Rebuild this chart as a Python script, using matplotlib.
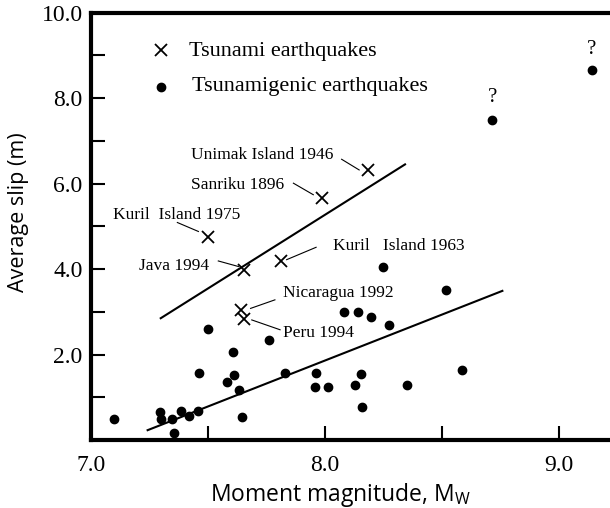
import matplotlib
matplotlib.use("Agg")
import matplotlib.pyplot as plt
from matplotlib.ticker import FixedLocator

plt.rcParams['mathtext.fontset'] = 'custom'
plt.rcParams['mathtext.rm'] = 'Open Sans'

# Tsunamigenic earthquakes (dots)
dot_mw = [7.10, 7.295, 7.298, 7.345, 7.355, 7.383, 7.42, 7.456, 7.463, 7.499,
          7.58, 7.608, 7.611, 7.632, 7.647, 7.762, 7.83, 7.962, 7.956, 8.011,
          8.08, 8.13, 8.142, 8.152, 8.159, 8.195, 8.247, 8.275, 8.349, 8.517,
          8.584, 8.714, 9.14]
dot_slip = [0.48, 0.65, 0.48, 0.48, 0.17, 0.69, 0.57, 0.69, 1.56, 2.60,
            1.36, 2.05, 1.52, 1.17, 0.53, 2.33, 1.56, 1.56, 1.24, 1.24,
            3.00, 1.28, 3.00, 1.55, 0.77, 2.88, 4.04, 2.68, 1.28, 3.51,
            1.64, 7.49, 8.65]

# Tsunami earthquakes (crosses)
tsu_names = ["Unimak Island 1946", "Sanriku 1896", "Kuril  Island 1975",
             "Kuril   Island 1963", "Java 1994", "Nicaragua 1992", "Peru 1994"]
tsu_mw = [8.185, 7.988, 7.498, 7.81, 7.655, 7.642, 7.652]
tsu_slip = [6.31, 5.67, 4.75, 4.19, 3.98, 3.05, 2.83]
# label anchor (left, baseline) and leader line start
lab_x = [7.426, 7.426, 7.095, 8.033, 7.205, 7.822, 7.822]
lab_y = [6.57, 5.87, 5.17, 4.45, 3.99, 3.34, 2.42]
lead_x0 = [8.071, 7.865, 7.369, 7.962, 7.544, 7.786, 7.808]
lead_y0 = [6.57, 6.01, 5.09, 4.51, 4.19, 3.28, 2.58]
lead_x1 = [8.146, 7.95, 7.459, 7.836, 7.63, 7.682, 7.687]
lead_y1 = [6.32, 5.74, 4.88, 4.22, 4.06, 3.08, 2.81]

# Fit lines
upper_fit_x = [7.298, 8.342]
upper_fit_y = [2.85, 6.45]
lower_fit_x = [7.242, 8.758]
lower_fit_y = [0.23, 3.49]

# Uncertain points
q_x = [8.714, 9.14]
q_y = [8.01, 9.13]

x_major = [7.0, 8.0, 9.0]
x_minor = [7.5, 8.5]
y_major = [2.0, 4.0, 6.0, 8.0, 10.0]
y_minor = [1.0, 3.0, 5.0, 7.0, 9.0]

W, H = 610, 508
fig = plt.figure(figsize=(6.1, 5.08), dpi=100)
px_per_x = 234.0
x0, x1 = 7.0, 9.25
ax = fig.add_axes([91 / W, 68 / H, (x1 - x0) * px_per_x / W, 427.3 / H])
ax.set_xlim(x0, x1)
ax.set_ylim(0, 10)

serif = 'Liberation Serif'

ax.plot(upper_fit_x, upper_fit_y, color='black', lw=1.5)
ax.plot(lower_fit_x, lower_fit_y, color='black', lw=1.5)

ax.plot(dot_mw, dot_slip, 'o', color='black', ms=6, ls='none', clip_on=False)
ax.plot(tsu_mw, tsu_slip, 'x', color='black', ms=8, mew=1.3, ls='none')

for i, name in enumerate(tsu_names):
    ax.text(lab_x[i], lab_y[i], name, family=serif, fontsize=12.5,
            ha='left', va='baseline')
    ax.plot([lead_x0[i], lead_x1[i]], [lead_y0[i], lead_y1[i]],
            color='black', lw=0.8)

for qx, qy in zip(q_x, q_y):
    ax.text(qx, qy, '?', family=serif, fontsize=15, ha='center', va='center')

# Legend
ax.plot([7.299], [9.13], 'x', color='black', ms=8, mew=1.3)
ax.text(7.42, 8.98, 'Tsunami earthquakes', family=serif, fontsize=16,
        ha='left', va='baseline')
ax.plot([7.299], [8.27], 'o', color='black', ms=6)
ax.text(7.43, 8.16, 'Tsunamigenic earthquakes', family=serif, fontsize=16,
        ha='left', va='baseline')

ax.xaxis.set_major_locator(FixedLocator(x_major))
ax.xaxis.set_minor_locator(FixedLocator(x_minor))
ax.yaxis.set_major_locator(FixedLocator(y_major))
ax.yaxis.set_minor_locator(FixedLocator(y_minor))
ax.set_xticklabels([f"{v:.1f}" for v in x_major], family=serif, fontsize=17)
ax.set_yticklabels([f"{v:.1f}" for v in y_major], family=serif, fontsize=17)
ax.tick_params(which='both', direction='in', length=10, width=1.5,
               top=False, right=False)
ax.tick_params(axis='x', which='both', pad=11)
ax.tick_params(axis='y', which='both', pad=6)

for s in ['left', 'top', 'bottom']:
    ax.spines[s].set_linewidth(3)
ax.spines['right'].set_visible(False)

fig.text(340 / W, 1 - 495 / H, r'Moment magnitude, M$_{\mathrm{W}}$',
         family='Open Sans', fontsize=16.5, ha='center', va='center')
fig.text(19 / W, 1 - 212 / H, 'Average slip (m)', family='Open Sans',
         fontsize=15.5, rotation=90, ha='center', va='center')

fig.savefig('out.png', dpi=100)
